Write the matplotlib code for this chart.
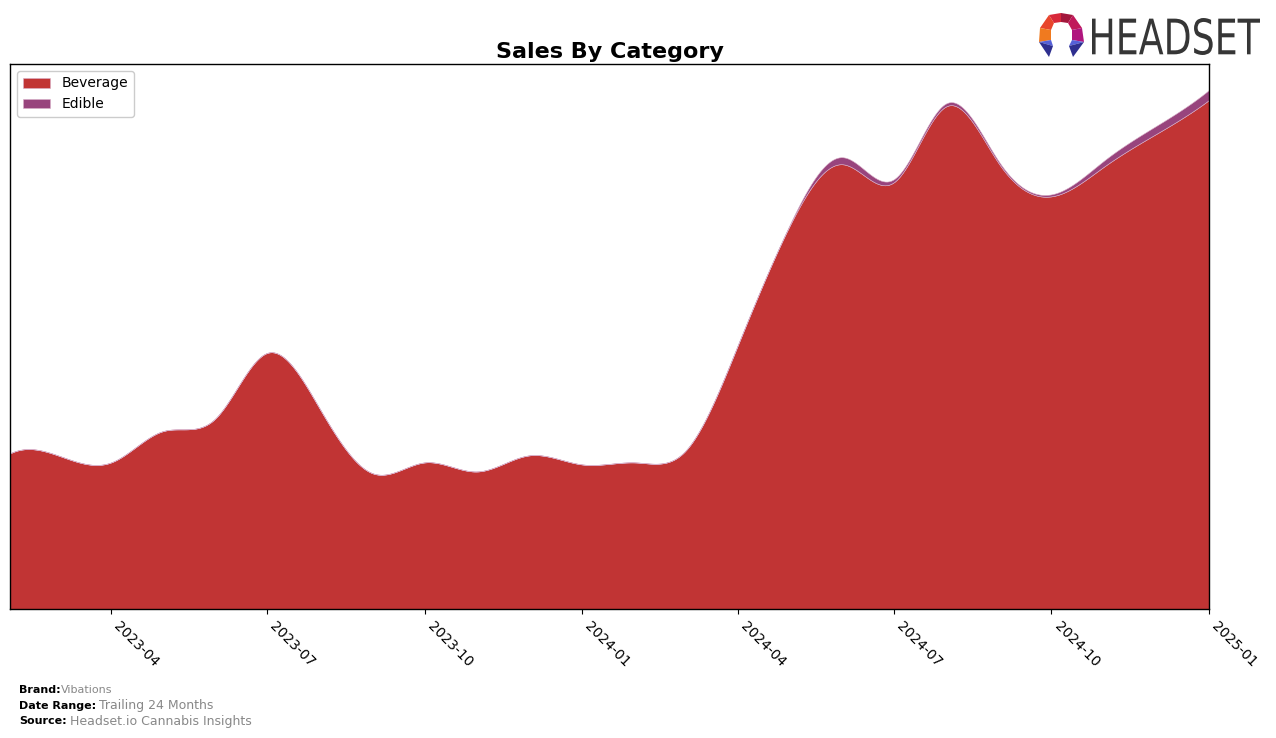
import numpy as np
import pandas as pd
import matplotlib
matplotlib.use("Agg")
import matplotlib.pyplot as plt
import matplotlib.dates as mdates
from matplotlib.patches import Polygon, PathPatch
from matplotlib.textpath import TextPath
from matplotlib.font_manager import FontProperties
from matplotlib.transforms import Affine2D

# ---- data (monthly, arbitrary sales units) ----
months = pd.date_range("2023-02-01", "2025-01-01", freq="MS")
beverage = [155, 153, 146, 177, 190, 255, 199, 135, 146, 137, 153, 144,
            146, 157, 263, 381, 443, 425, 501, 442, 411, 441, 473, 507]
edible = [0, 0, 0, 0, 0, 0, 0, 0, 0, 0, 0, 0,
          0, 0, 0.5, 1, 7, 3, 3, 2, 2, 6, 8, 10]
categories = ["Beverage", "Edible"]
colors = ["#C13434", "#98447D"]
tick_dates = pd.date_range("2023-04-01", "2025-01-01", freq="3MS")


def notaknot_spline(x, y, xs):
    x = np.asarray(x, float)
    y = np.asarray(y, float)
    n = len(x)
    h = np.diff(x)
    d = np.diff(y) / h
    A = np.zeros((n, n))
    b = np.zeros(n)
    A[0, 0] = h[1]
    A[0, 1] = -(h[0] + h[1])
    A[0, 2] = h[0]
    A[-1, -3] = h[-1]
    A[-1, -2] = -(h[-2] + h[-1])
    A[-1, -1] = h[-2]
    for i in range(1, n - 1):
        A[i, i - 1] = h[i - 1]
        A[i, i] = 2 * (h[i - 1] + h[i])
        A[i, i + 1] = h[i]
        b[i] = 6 * (d[i] - d[i - 1])
    M = np.linalg.solve(A, b)
    idx = np.clip(np.searchsorted(x, xs) - 1, 0, n - 2)
    x0 = x[idx]
    x1 = x[idx + 1]
    hh = h[idx]
    t0 = x1 - xs
    t1 = xs - x0
    ys = (M[idx] * t0 ** 3 + M[idx + 1] * t1 ** 3) / (6 * hh) \
        + (y[idx] / hh - M[idx] * hh / 6) * t0 \
        + (y[idx + 1] / hh - M[idx + 1] * hh / 6) * t1
    return ys


xnum = mdates.date2num(months)
xs = np.linspace(xnum[0], xnum[-1], 600)
bev_s = np.clip(notaknot_spline(xnum, beverage, xs), 0, None)
edi_s = np.clip(notaknot_spline(xnum, edible, xs), 0, None)

fig = plt.figure(figsize=(12.76, 7.38), dpi=100)
ax = fig.add_axes([10 / 1276, 1 - 609 / 738, (1209 - 10) / 1276, (609 - 64) / 738])

ax.stackplot(xs, bev_s, edi_s, colors=colors, labels=categories,
             edgecolor="#d9b0c8", linewidth=0.4)
total_max = max(np.array(beverage) + np.array(edible))
ax.set_ylim(0, total_max * 1.05)
ax.set_xlim(xnum[0], xnum[-1])
ax.set_yticks([])
ax.set_xticks(mdates.date2num(tick_dates))
ax.set_xticklabels([d.strftime("%Y-%m") for d in tick_dates],
                   rotation=-45, ha="left", fontsize=10)
for s in ax.spines.values():
    s.set_linewidth(1.0)
ax.set_title("Sales By Category", fontsize=16, fontweight="bold", pad=4)
ax.legend(loc="upper left", fontsize=10, framealpha=1, borderpad=0.4,
          handlelength=2.0)

# footer
fig.text(19 / 1276, 1 - 690 / 738, "Brand:", fontsize=8, fontweight="bold", va="center")
fig.text(61 / 1276, 1 - 690 / 738, "Vibations", fontsize=8, color="#888888", va="center")
fig.text(19 / 1276, 1 - 706 / 738, "Date Range:", fontsize=8, fontweight="bold", va="center")
fig.text(99 / 1276, 1 - 706 / 738, "Trailing 24 Months", fontsize=9, color="#888888", va="center")
fig.text(19 / 1276, 1 - 721 / 738, "Source:", fontsize=8, fontweight="bold", va="center")
fig.text(70 / 1276, 1 - 721 / 738, "Headset.io Cannabis Insights", fontsize=9, color="#888888", va="center")

# logo (overlay axes in pixel coordinates, y downward)
lax = fig.add_axes([0, 0, 1, 1], zorder=5)
lax.set_xlim(0, 1276)
lax.set_ylim(738, 0)
lax.axis("off")
ox, oy = 1034, 10
polys = [
    ([(15, 5), (27, 3), (27, 12), (20, 13)], "#d8283a"),
    ([(27, 3), (39, 5), (34, 13), (27, 12)], "#a3173c"),
    ([(39, 5), (48, 18), (38, 20), (34, 13)], "#c0185a"),
    ([(48, 18), (50, 32), (38, 30), (38, 20)], "#b0157e"),
    ([(15, 5), (20, 13), (17, 20), (6, 18)], "#e8452c"),
    ([(6, 18), (17, 20), (17, 30), (5, 32)], "#f07a1f"),
    ([(5, 32), (17, 30), (19, 36)], "#5560d8"),
    ([(5, 32), (19, 36), (15, 47)], "#2e2f8f"),
    ([(50, 32), (38, 30), (35, 36)], "#5560d8"),
    ([(50, 32), (35, 36), (39, 47)], "#2e2f8f"),
]
for pts, c in polys:
    lax.add_patch(Polygon([(ox + px, oy + py) for px, py in pts], closed=True,
                          color=c, lw=0))

tp = TextPath((0, 0), "HEADSET", size=1, prop=FontProperties(family="DejaVu Sans"))
ext = tp.get_extents()
sx = (1260 - 1092) / ext.width
sy = (55 - 18) / ext.height
tr = Affine2D().translate(-ext.x0, -ext.y0).scale(sx, -sy).translate(1092, 55)
lax.add_patch(PathPatch(tr.transform_path(tp), color="#363636", lw=0))

fig.savefig("out.png", dpi=100)
